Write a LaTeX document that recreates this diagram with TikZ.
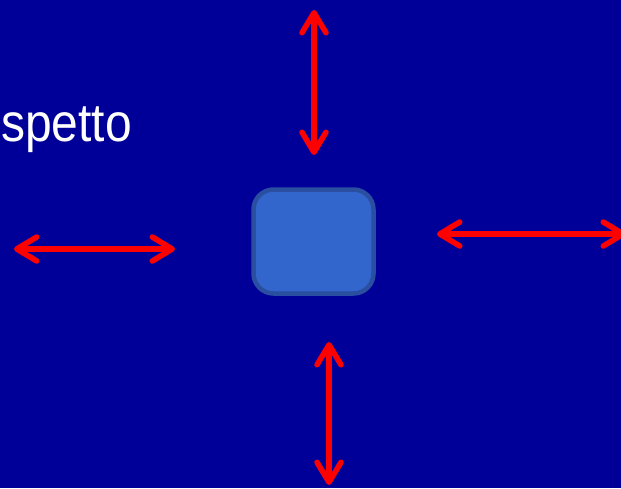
\documentclass[tikz,border=0pt]{standalone}
\usepackage{fontspec}
\setmainfont{Liberation Sans}
\usetikzlibrary{arrows.meta}
\definecolor{bg}{HTML}{000099}
\definecolor{boxfill}{HTML}{3366CC}
\definecolor{boxline}{HTML}{2A4FA0}
\definecolor{arrowred}{HTML}{FF0000}
\begin{document}
\begin{tikzpicture}[x=1pt,y=-1pt,
  dbl/.style={arrowred,line width=5.5pt,{Straight Barb[length=20pt,width=24pt,round]}-{Straight Barb[length=20pt,width=24pt,round]}},
  block/.style={draw=boxline,fill=boxfill,line width=4.5pt,rounded corners=20pt,minimum width=120pt,minimum height=104pt,inner sep=0pt},
  label/.style={text=white,font=\fontsize{48}{52}\selectfont,inner sep=0pt,anchor=base west}]
\fill[bg] (0,0) rectangle (621,488);
\useasboundingbox (0,0) rectangle (621,488);
\node[block] (box) at (313.5,241.5) {};
\node[label] (txt) at (1,141) {\scalebox{1}[1.12]{spetto}};
\coordinate (t1) at (314,10);
\coordinate (t2) at (314,155);
\coordinate (l1) at (14,249);
\coordinate (l2) at (175,249);
\coordinate (r1) at (437,234);
\coordinate (r2) at (626,234);
\coordinate (b1) at (329,342);
\coordinate (b2) at (329,485);
\draw[dbl] (t1) -- (t2);
\draw[dbl] (l1) -- (l2);
\draw[dbl] (r1) -- (r2);
\draw[dbl] (b1) -- (b2);
\end{tikzpicture}
\end{document}
